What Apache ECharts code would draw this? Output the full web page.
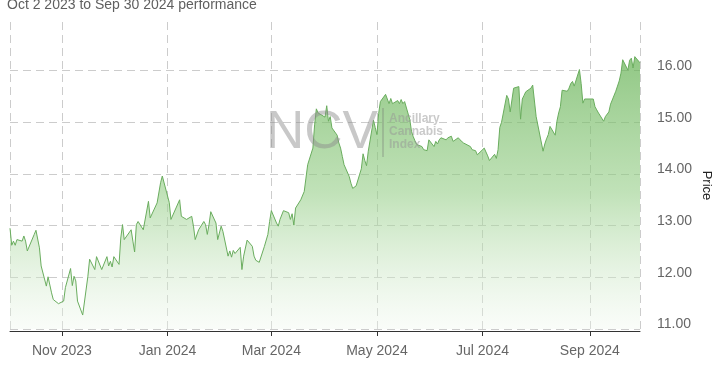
<!DOCTYPE html>
<html>
<head>
<meta charset="utf-8">
<script src="https://cdn.jsdelivr.net/npm/echarts@6/dist/echarts.min.js"></script>
<style>
html,body{margin:0;padding:0;background:#fff;}
#chart{width:713px;height:365px;}
</style>
</head>
<body>
<div id="chart"></div>
<script>
const titleText = 'Oct 2 2023 to Sep 30 2024 performance';
const axisName = 'Price';
const monthNames = ['Jan','Feb','Mar','Apr','May','Jun','Jul','Aug','Sep','Oct','Nov','Dec'];
const startDate = '2023-10-02';
const endDate = '2024-09-30';
const yMin = 11;
const yMax = 16.94;
const yStep = 1;
const watermarkBig = 'NCV';
const watermarkSmall = ['Ancillary', 'Cannabis', 'Index'];

const dates = [
'2023-10-02','2023-10-03','2023-10-04','2023-10-05','2023-10-06','2023-10-09','2023-10-10','2023-10-11','2023-10-12','2023-10-13',
'2023-10-16','2023-10-17','2023-10-19','2023-10-20','2023-10-23','2023-10-24','2023-10-26','2023-10-27','2023-10-30','2023-10-31',
'2023-11-02','2023-11-03','2023-11-06','2023-11-07','2023-11-08','2023-11-09','2023-11-10','2023-11-13','2023-11-14','2023-11-16',
'2023-11-17','2023-11-20','2023-11-21','2023-11-22','2023-11-24','2023-11-27','2023-11-28','2023-11-29','2023-11-30','2023-12-01',
'2023-12-04','2023-12-05','2023-12-06','2023-12-07','2023-12-08','2023-12-11','2023-12-12','2023-12-13','2023-12-14','2023-12-15',
'2023-12-18','2023-12-19','2023-12-21','2023-12-22','2023-12-26','2023-12-27','2023-12-28','2023-12-29','2024-01-02','2024-01-03',
'2024-01-04','2024-01-08','2024-01-09','2024-01-10','2024-01-12','2024-01-15','2024-01-16','2024-01-17','2024-01-19','2024-01-22',
'2024-01-23','2024-01-24','2024-01-25','2024-01-26','2024-01-29','2024-01-30','2024-02-01','2024-02-02','2024-02-05','2024-02-06',
'2024-02-07','2024-02-08','2024-02-09','2024-02-12','2024-02-13','2024-02-14','2024-02-16','2024-02-19','2024-02-20','2024-02-21',
'2024-02-23','2024-02-26','2024-02-28','2024-02-29','2024-03-01','2024-03-04','2024-03-05','2024-03-06','2024-03-08','2024-03-11',
'2024-03-12','2024-03-13','2024-03-14','2024-03-15','2024-03-18','2024-03-19','2024-03-20','2024-03-21','2024-03-22','2024-03-25',
'2024-03-26','2024-03-27','2024-03-28','2024-04-01','2024-04-02','2024-04-03','2024-04-04','2024-04-05','2024-04-08','2024-04-09',
'2024-04-10','2024-04-11','2024-04-12','2024-04-15','2024-04-16','2024-04-17','2024-04-18','2024-04-19','2024-04-22','2024-04-23',
'2024-04-24','2024-04-25','2024-04-26','2024-04-29','2024-04-30','2024-05-01','2024-05-02','2024-05-03','2024-05-06','2024-05-07',
'2024-05-08','2024-05-09','2024-05-10','2024-05-13','2024-05-14','2024-05-15','2024-05-16','2024-05-17','2024-05-20','2024-05-21',
'2024-05-22','2024-05-23','2024-05-24','2024-05-27','2024-05-28','2024-05-29','2024-05-30','2024-05-31','2024-06-03','2024-06-04',
'2024-06-05','2024-06-06','2024-06-07','2024-06-10','2024-06-11','2024-06-12','2024-06-13','2024-06-14','2024-06-17','2024-06-18',
'2024-06-19','2024-06-20','2024-06-21','2024-06-24','2024-06-25','2024-06-26','2024-06-27','2024-06-28','2024-07-02','2024-07-03',
'2024-07-04','2024-07-05','2024-07-08','2024-07-09','2024-07-10','2024-07-11','2024-07-12','2024-07-15','2024-07-16','2024-07-17',
'2024-07-18','2024-07-19','2024-07-22','2024-07-23','2024-07-24','2024-07-25','2024-07-26','2024-07-29','2024-07-30','2024-08-01',
'2024-08-05','2024-08-06','2024-08-07','2024-08-08','2024-08-09','2024-08-12','2024-08-13','2024-08-14','2024-08-15','2024-08-16',
'2024-08-19','2024-08-20','2024-08-21','2024-08-22','2024-08-23','2024-08-26','2024-08-27','2024-08-28','2024-08-29','2024-08-30',
'2024-09-03','2024-09-04','2024-09-05','2024-09-06','2024-09-09','2024-09-10','2024-09-11','2024-09-12','2024-09-13','2024-09-16',
'2024-09-17','2024-09-18','2024-09-19','2024-09-20','2024-09-23','2024-09-24','2024-09-25','2024-09-26','2024-09-27','2024-09-30'
];

const prices = [
12.95,12.62,12.70,12.62,12.73,12.70,12.80,12.70,12.51,12.52,
12.83,12.91,12.57,12.22,11.83,12.01,11.70,11.57,11.49,11.46,
11.54,11.80,12.17,11.84,12.02,11.93,11.54,11.27,11.25,12.02,
12.35,12.15,12.40,12.40,12.15,12.40,12.22,12.31,12.20,12.40,
12.25,12.76,13.02,12.73,12.70,12.92,12.70,12.49,13.02,13.08,
12.92,12.92,13.47,13.15,13.44,13.47,13.83,13.96,13.45,13.12,
13.15,13.50,13.18,13.15,13.12,13.18,12.99,12.73,12.92,13.08,
13.02,12.83,13.02,13.27,13.05,12.73,12.99,12.89,12.41,12.51,
12.39,12.52,12.46,12.58,12.15,12.41,12.72,12.60,12.41,12.33,
12.29,12.60,12.83,13.08,13.29,13.05,12.99,13.12,13.29,13.25,
13.12,13.23,13.01,13.34,13.50,13.48,13.66,13.92,14.18,14.50,
14.95,15.26,15.18,15.10,15.32,15.02,15.11,14.89,14.75,14.60,
14.50,14.34,14.18,13.95,13.82,13.72,13.74,13.77,14.10,14.39,
14.26,14.16,14.44,15.04,14.90,14.76,15.17,15.40,15.54,15.45,
15.36,15.46,15.36,15.42,15.36,15.44,15.36,15.40,15.05,14.82,
14.72,14.64,14.57,14.53,14.47,14.44,14.45,14.66,14.53,14.63,
14.58,14.66,14.70,14.66,14.70,14.68,14.73,14.63,14.70,14.66,
14.64,14.60,14.57,14.53,14.47,14.50,14.45,14.37,14.50,14.47,
14.35,14.26,14.38,14.30,14.47,14.90,15.00,15.52,15.45,15.20,
15.18,15.66,15.69,15.06,15.45,15.52,15.59,15.66,15.72,15.11,
14.44,14.58,14.68,14.76,14.92,14.75,15.02,15.18,15.30,15.62,
15.60,15.66,15.75,15.79,15.70,16.02,15.75,15.37,15.45,15.48,
15.45,15.30,15.24,15.18,15.02,15.11,15.14,15.20,15.35,15.60,
15.70,15.80,15.95,16.21,16.01,16.20,16.24,16.05,16.27,16.15
];

const FONT = '"Liberation Sans", Arial, Helvetica, sans-serif';
const seriesData = dates.map((d, i) => [d, prices[i]]);

const chart = echarts.init(document.getElementById('chart'), null, {renderer: 'canvas'});
chart.setOption({
  animation: false,
  backgroundColor: '#ffffff',
  textStyle: {fontFamily: FONT},
  title: {
    text: titleText,
    left: 7,
    top: -2,
    padding: 0,
    textStyle: {fontFamily: FONT, fontSize: 14, fontWeight: 'normal', color: '#5f5f5f'}
  },
  grid: {left: 10, right: 73, top: 22, bottom: 36, containLabel: false, outerBoundsMode: 'none'},
  xAxis: {
    type: 'time',
    min: startDate,
    max: endDate,
    offset: 2,
    splitNumber: 6,
    axisLine: {show: true, lineStyle: {color: '#333333', width: 1}},
    axisTick: {show: true, length: 5, lineStyle: {color: '#333333'}},
    axisLabel: {
      color: '#666666',
      fontSize: 14,
      fontFamily: FONT,
      margin: 13,
      showMinLabel: false,
      showMaxLabel: false,
      formatter: function (val) {
        const d = new Date(val);
        return monthNames[d.getMonth()] + ' ' + d.getFullYear();
      }
    },
    splitLine: {show: true, lineStyle: {color: '#cccccc', type: [8, 5], width: 1}}
  },
  yAxis: {
    type: 'value',
    position: 'right',
    min: yMin,
    max: yMax,
    interval: yStep,
    name: axisName,
    nameLocation: 'middle',
    nameGap: 60,
    nameRotate: -90,
    nameMoveOverlap: false,
    nameTextStyle: {color: '#222222', fontSize: 13, fontFamily: FONT, padding: [0, 0, 0, 20]},
    axisLine: {show: false},
    axisTick: {show: false},
    axisLabel: {
      color: '#666666',
      fontSize: 14,
      fontFamily: FONT,
      margin: 17,
      showMaxLabel: false,
      verticalAlign: 'bottom',
      lineHeight: 9,
      formatter: v => v.toFixed(2)
    },
    splitLine: {show: true, showMaxLine: false, lineStyle: {color: '#cccccc', type: [8, 5], width: 1}}
  },
  graphic: [
    {
      type: 'text', left: 266, top: 107, z: 100, silent: true,
      style: {text: watermarkBig, fontFamily: FONT, fontSize: 53, fill: 'rgba(140,140,140,0.48)'}
    },
    {
      type: 'line', z: 100, silent: true,
      shape: {x1: 383, y1: 108, x2: 383, y2: 157},
      style: {stroke: 'rgba(110,110,110,0.55)', lineWidth: 1}
    },
    {
      type: 'text', left: 389, top: 112, z: 100, silent: true,
      style: {text: watermarkSmall.join('\n'), fontFamily: FONT, fontSize: 12, fontWeight: 'bold', lineHeight: 13, fill: 'rgba(150,150,150,0.5)'}
    }
  ],
  series: [{
    type: 'line',
    data: seriesData,
    showSymbol: false,
    symbol: 'none',
    lineStyle: {color: '#6aad5e', width: 1},
    areaStyle: {
      color: new echarts.graphic.LinearGradient(0, 0, 0, 1, [
        {offset: 0, color: 'rgba(98,176,80,1)'},
        {offset: 0.5, color: 'rgba(150,206,136,0.85)'},
        {offset: 1, color: 'rgba(240,248,238,0.5)'}
      ])
    },
    emphasis: {disabled: true}
  }]
});
</script>
</body>
</html>
